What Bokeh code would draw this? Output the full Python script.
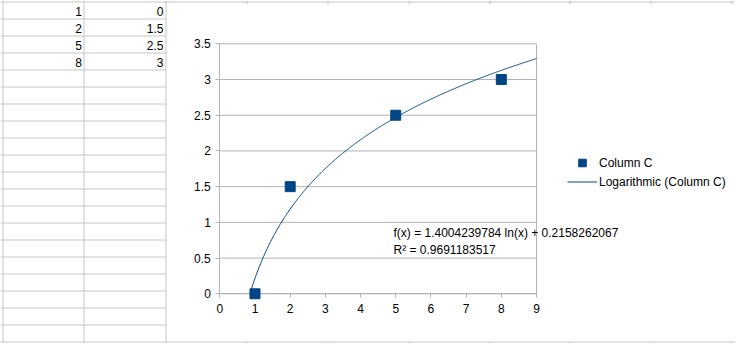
import numpy as np
from bokeh.plotting import figure
from bokeh.models import Range1d, FixedTicker, NumeralTickFormatter, Legend, LegendItem
from bokeh.core.properties import value
from bokeh.embed import file_html
from bokeh.resources import INLINE

# ---------------- data ----------------
col_b = [1, 2, 5, 8]
col_c = [0, 1.5, 2.5, 3]
x_ticks = [0, 1, 2, 3, 4, 5, 6, 7, 8, 9]
y_ticks = [0, 0.5, 1, 1.5, 2, 2.5, 3, 3.5]
trend_slope = 1.4004239784
trend_intercept = 0.2158262067
eq_text = "f(x) = 1.4004239784 ln(x) + 0.2158262067"
r2_text = "R\u00b2 = 0.9691183517"
legend_labels = ["Column C", "Logarithmic (Column C)"]

# ---------------- layout (screenshot pixel geometry) ----------------
W, H = 735, 343
OFF = 0
AX_L, AX_R, AX_T, AX_B = 219.3, 536.0, 43.3, 293.3
X_MIN, X_MAX = x_ticks[0], x_ticks[-1]
Y_MIN, Y_MAX = y_ticks[0], y_ticks[-1]

sx = (AX_R - AX_L) / (X_MAX - X_MIN)
sy = (AX_B - AX_T) / (Y_MAX - Y_MIN)
x_start = X_MIN - (AX_L - OFF) / sx
x_end = X_MIN + (OFF + W - AX_L) / sx
y_start = Y_MIN - (OFF + H - AX_B) / sy
y_end = Y_MIN + (AX_B - OFF) / sy

FONT = "Liberation Sans"
GRID = "#b3b3b3"
CELL = "#c6c6c6"
BLUE = "#004586"

p = figure(width=W, height=H, output_backend="svg", toolbar_location=None,
           x_range=Range1d(x_start, x_end), y_range=Range1d(y_start, y_end),
           min_border=0, outline_line_color=None,
           background_fill_color="white", border_fill_color="white")
p.extra_x_ranges = {"px": Range1d(OFF, OFF + W)}
p.extra_y_ranges = {"px": Range1d(OFF + H, OFF)}
p.xgrid.visible = False
p.ygrid.visible = False

# ---------------- spreadsheet background ----------------
ROW0, ROWH = 1, 17
xs, ys = [], []
for k in range(0, 22):
    yy = ROW0 + ROWH * k + 0.5
    xs.append([0, 165.5]); ys.append([yy, yy])
for k in range(0, 20):
    yy = ROW0 + ROWH * k + 0.5
    xs.append([740, 751]); ys.append([yy, yy])
xs.append([165, 751]); ys.append([1.5, 1.5])
for yy in (341.5, 358.5):
    xs.append([165, 751]); ys.append([yy, yy])
for xx in (2.5, 83.5, 165.5):
    xs.append([xx, xx]); ys.append([0, 359])
for xx in (246.5, 327.5, 408.5, 489.5, 569.5, 650.5, 731.5):
    xs.append([xx, xx]); ys.append([341, 359])
    xs.append([xx, xx]); ys.append([0, 4])
p.multi_line(xs, ys, line_color=CELL, line_width=1, x_range_name="px", y_range_name="px")

row_y = [ROW0 + ROWH * k + 9.5 for k in range(len(col_b))]
p.text(x=[81.5] * len(col_b), y=row_y, text=[f"{v:g}" for v in col_b],
       text_align="right", text_baseline="middle", text_font=value(FONT),
       text_font_size="12px", text_color="black", x_range_name="px", y_range_name="px")
p.text(x=[163.0] * len(col_c), y=row_y, text=[f"{v:g}" for v in col_c],
       text_align="right", text_baseline="middle", text_font=value(FONT),
       text_font_size="12px", text_color="black", x_range_name="px", y_range_name="px")

# ---------------- chart ----------------
n = len(y_ticks)
p.segment(x0=[X_MIN] * n, y0=y_ticks, x1=[X_MAX] * n, y1=y_ticks, line_color=GRID, line_width=1)
p.segment(x0=[X_MAX], y0=[Y_MIN], x1=[X_MAX], y1=[Y_MAX], line_color=GRID, line_width=1)

for ax in (p.xaxis, p.yaxis):
    ax.axis_line_color = GRID
    ax.major_tick_line_color = GRID
    ax.minor_tick_line_color = None
    ax.major_tick_in = 0
    ax.major_tick_out = 4
    ax.major_label_text_font = FONT
    ax.major_label_text_font_size = "12px"
    ax.major_label_text_color = "black"

p.xaxis.fixed_location = Y_MIN
p.xaxis.bounds = (X_MIN, X_MAX)
p.xaxis.ticker = FixedTicker(ticks=x_ticks)
p.xaxis.major_label_standoff = 6
p.yaxis.fixed_location = X_MIN
p.yaxis.bounds = (Y_MIN, Y_MAX)
p.yaxis.ticker = FixedTicker(ticks=y_ticks)
p.yaxis.formatter = NumeralTickFormatter(format="0.[0]")
p.yaxis.major_label_standoff = 5

x0 = float(np.exp(-trend_intercept / trend_slope))
tx = np.linspace(x0, X_MAX, 400)
ty = trend_slope * np.log(tx) + trend_intercept
trend = p.line(tx, ty, line_color=BLUE, line_width=1, level="overlay")
pts = p.scatter(col_b, col_c, marker="square", size=10, fill_color=BLUE, line_color=BLUE,
                level="overlay")

p.text(x=[393.0, 393.0], y=[232.5, 249.0], text=[eq_text, r2_text],
       text_align="left", text_baseline="middle", text_font=value(FONT),
       text_font_size="12px", text_color="black", x_range_name="px", y_range_name="px")

legend = Legend(items=[LegendItem(label=legend_labels[0], renderers=[pts]),
                       LegendItem(label=legend_labels[1], renderers=[trend])],
                location=(567, H - 191), border_line_color=None, background_fill_alpha=0,
                padding=0, margin=0, spacing=0, glyph_width=30, glyph_height=19,
                label_height=19, label_standoff=2, label_text_font=FONT,
                label_text_font_size="12px", label_text_color="black")
p.add_layout(legend)

open("out.html", "w").write(file_html(p, INLINE))
